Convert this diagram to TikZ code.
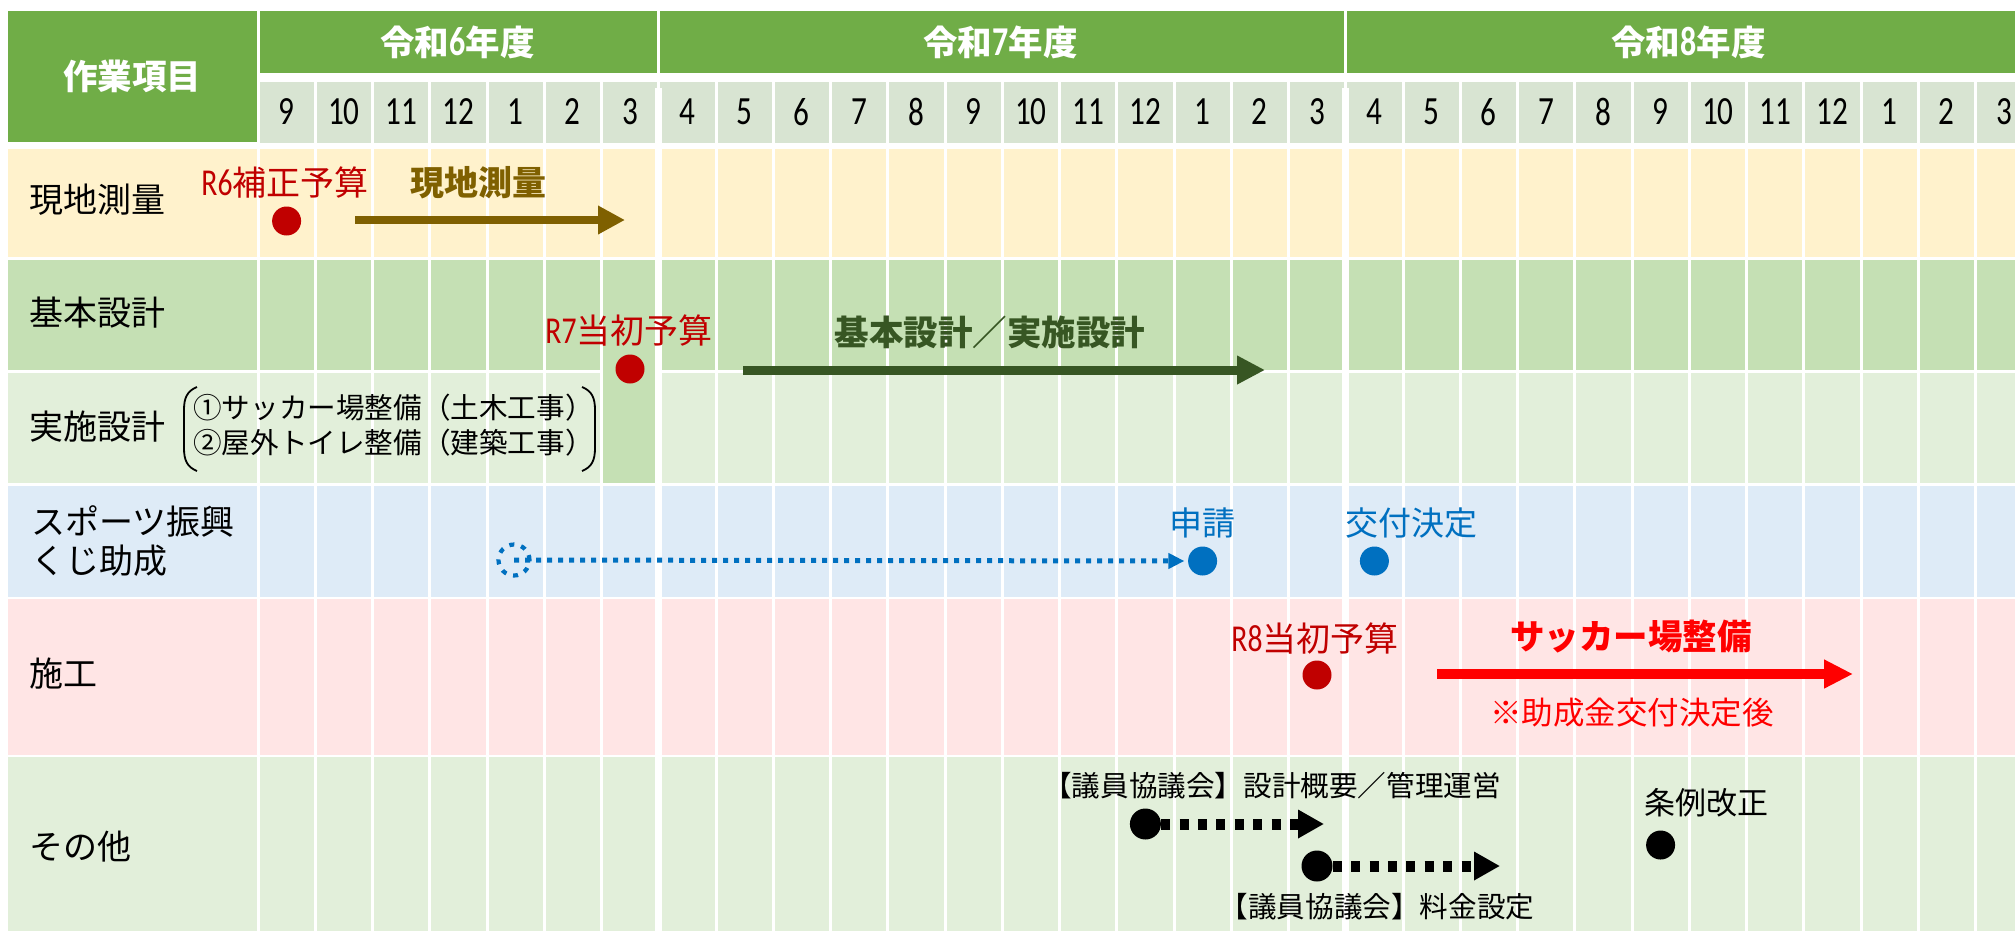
\documentclass[tikz,border=0pt]{standalone}
\usepackage{fontspec}
\setmainfont{Noto Sans CJK JP}
\newfontfamily\numfont[FakeStretch=0.78]{Carlito}
\usetikzlibrary{arrows.meta}
\definecolor{hdrgreen}{HTML}{70AD47}
\definecolor{moncol}{HTML}{D8E4D2}
\definecolor{rowA}{HTML}{FFF2CC}
\definecolor{rowB}{HTML}{C5E0B4}
\definecolor{rowC}{HTML}{E2EFDA}
\definecolor{rowD}{HTML}{DEEBF7}
\definecolor{rowE}{HTML}{FFE5E5}
\definecolor{rowF}{HTML}{E2EFDA}
\definecolor{darkred}{HTML}{C00000}
\definecolor{olivebrown}{HTML}{7F6000}
\definecolor{darkgreen}{HTML}{375623}
\definecolor{bluemark}{HTML}{0070C0}
\definecolor{brightred}{HTML}{FF0000}
\newcommand\setfs[1]{\fontsize{#1}{#1}\selectfont}
\begin{document}
\begin{tikzpicture}[x=1pt,y=-1pt,
  hdrtext/.style={text=white,inner sep=0,font=\setfs{34.5}\bfseries},
  montext/.style={inner sep=0,font=\numfont\setfs{40}},
  rowlabel/.style={anchor=west,inner sep=0,font=\setfs{34}},
  smalltext/.style={anchor=west,inner sep=0,font=\setfs{28.6}},
  note/.style={inner sep=0,font=\setfs{34}},
  dot/.style={circle,inner sep=0,minimum size=29pt},
  bar/.style={line width=#1},
]
\useasboundingbox (0,0) rectangle (2015,930);
\clip (0,0) rectangle (2015,930);
\fill[white] (0,0) rectangle (2015,930);
% header
\fill[hdrgreen] (8,11) rectangle (256.5,142);
\fill[hdrgreen] (259.5,11) rectangle (2040,73);
\fill[moncol] (259.5,82) rectangle (2040,143);
% rows
\foreach \t/\b/\c in {149/257/rowA,260/370/rowB,373/483/rowC,486/597/rowD,599/755/rowE,757/935/rowF}
  \fill[\c] (8,\t) rectangle (2040,\b);
\fill[rowB] ({258+57.25*6+1.5},260) rectangle ({258+57.25*7-3.5},483);
% grid lines
\foreach \k in {0,...,31}
  \draw[white,line width=3] ({258+57.25*\k},82) -- ({258+57.25*\k},935);
\draw[white,line width=3] (258,11) -- (258,82);
\foreach \k in {7,19} {
  \draw[white,line width=3] ({258+57.25*\k},11) -- ({258+57.25*\k},88);
  \draw[white,line width=7] ({258+57.25*\k},88) -- ({258+57.25*\k},935);
}
% header texts
\node[hdrtext] (hitem) at (132,76) {作業項目};
\node[hdrtext] (hy6) at (457.5,42) {令和{\numfont\setfs{41}6}年度};
\node[hdrtext] (hy7) at (1000.5,42) {令和{\numfont\setfs{41}7}年度};
\node[hdrtext] (hy8) at (1688.4,42) {令和{\numfont\setfs{41}8}年度};
\foreach \m [count=\i from 0] in {9,10,11,12,1,2,3,4,5,6,7,8,9,10,11,12,1,2,3,4,5,6,7,8,9,10,11,12,1,2,3}
  \node[montext] (mon\i) at ({258+57.25*(\i+0.5)},112) {\m};
% row labels
\node[rowlabel] (l1) at (29,200) {現地測量};
\node[rowlabel] (l2) at (29,313) {基本設計};
\node[rowlabel] (l3) at (29,427) {実施設計};
\node[rowlabel] (l4a) at (31,521) {スポーツ振興};
\node[rowlabel] (l4b) at (31,561) {くじ助成};
\node[rowlabel] (l5) at (29,674) {施工};
\node[rowlabel] (l6) at (29,847) {その他};
% bracketed list
\node[smalltext] (w1) at (193,408) {①サッカー場整備（土木工事）};
\node[smalltext] (w2) at (193,443) {②屋外トイレ整備（建築工事）};
\draw[line width=1.8] (197,387) .. controls (187,391) and (184,398) .. (184,410) -- (184,448) .. controls (184,460) and (187,467) .. (197,471);
\draw[line width=1.8] (582,387) .. controls (592,391) and (595,398) .. (595,410) -- (595,448) .. controls (595,460) and (592,467) .. (582,471);
% row 1
\node[note,text=darkred] (r6t) at (285,183) {{\numfont\setfs{38}R6}補正予算};
\node[dot,fill=darkred] (r6d) at (286.6,221) {};
\node[note,text=olivebrown,font=\setfs{34}\bfseries] (svt) at (478,183) {現地測量};
\coordinate (svs) at (355,220);
\coordinate (sve) at (625,220);
\draw[olivebrown,bar=8.3,-{Triangle[length=27pt,width=27pt]}] (svs) -- (sve);
% row 2/3
\node[note,text=darkred] (r7t) at (629,331) {{\numfont\setfs{38}R7}当初予算};
\node[dot,fill=darkred] (r7d) at (630,369) {};
\node[note,text=darkgreen,font=\setfs{34.5}\bfseries] (dst) at (990,332) {基本設計／実施設計};
\coordinate (dss) at (743,370);
\coordinate (dse) at (1265,370);
\draw[darkgreen,bar=9,-{Triangle[length=28pt,width=27pt]}] (dss) -- (dse);
% row 4
\node[circle,draw=bluemark,line width=4.2,dash pattern=on 5pt off 7pt,minimum size=31pt,inner sep=0] (bc) at (514,560) {};
\node[dot,fill=bluemark] (apd) at (1202.6,561) {};
\node[note,text=bluemark,font=\setfs{33}] (apt) at (1202,523) {申請};
\node[dot,fill=bluemark] (gd) at (1374.4,561) {};
\node[note,text=bluemark,font=\setfs{33}] (gt) at (1411,523) {交付決定};
\draw[bluemark,line width=5,dash pattern=on 5pt off 6pt,shorten >=3.5pt,-{Triangle[length=16pt,width=15pt]}] (bc.center) -- (apd.west);
% row 5
\node[note,text=darkred] (r8t) at (1315,638) {{\numfont\setfs{38}R8}当初予算};
\node[dot,fill=darkred] (r8d) at (1317,675) {};
\node[note,text=brightred,font=\setfs{34.5}\bfseries] (sct) at (1631,637) {サッカー場整備};
\coordinate (scs) at (1437,674);
\coordinate (sce) at (1853,674);
\draw[brightred,bar=10,-{Triangle[length=29pt,width=27pt]}] (scs) -- (sce);
\node[note,text=brightred,font=\setfs{31.5}] (sub) at (1632,713) {※助成金交付決定後};
% row 6
\node[note,font=\setfs{28.6}] (k1t) at (1272,786) {【議員協議会】設計概要／管理運営};
\node[dot,fill=black,minimum size=31pt] (k1d) at (1145.4,824) {};
\coordinate (k1e) at (1324,824);
\draw[line width=11,dash pattern=on 9pt off 9.4pt,-{Triangle[length=26pt,width=27pt]}] (k1d.east) -- (k1e);
\node[dot,fill=black,minimum size=31pt] (k2d) at (1317,866) {};
\coordinate (k2e) at (1500,866);
\draw[line width=11,dash pattern=on 9pt off 9.4pt,-{Triangle[length=26pt,width=27pt]}] (k2d.east) -- (k2e);
\node[note,font=\setfs{28.6}] (k2t) at (1377,907) {【議員協議会】料金設定};
\node[note,font=\setfs{31}] (jt) at (1706,803) {条例改正};
\node[dot,fill=black] (jd) at (1660.6,845) {};
\end{tikzpicture}
\end{document}
